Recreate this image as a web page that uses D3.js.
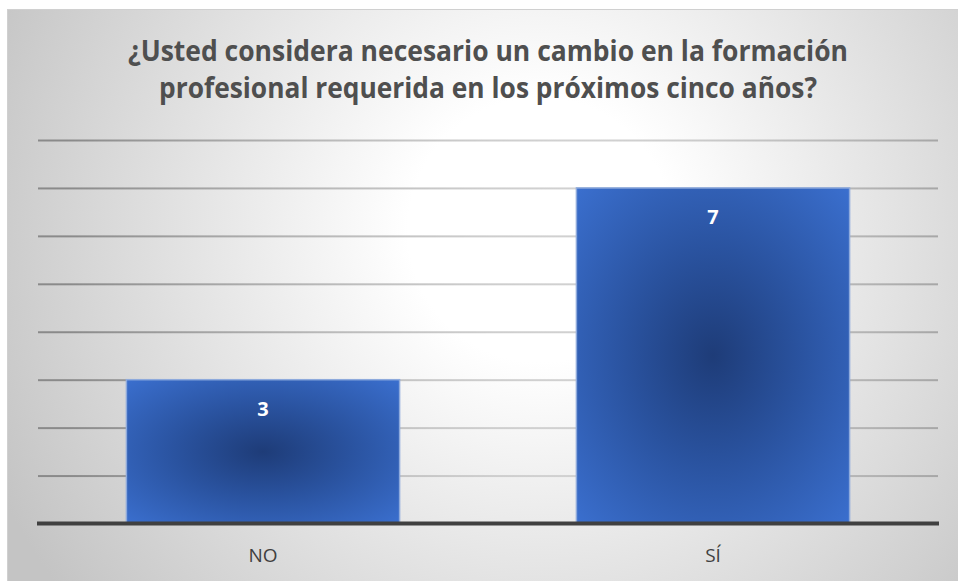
<!DOCTYPE html>
<html>
<head>
<meta charset="utf-8">
<script src="https://cdn.jsdelivr.net/npm/d3@7"></script>
<style>
  html, body { margin: 0; padding: 0; background: #ffffff; }
  svg { display: block; }
</style>
</head>
<body>
<svg id="chart" width="958" height="581"></svg>
<script>
// Survey answers: respondents per option
const categories = ["NO", "SÍ"];
const values = [3, 7];
const yTicks = [0, 1, 2, 3, 4, 5, 6, 7, 8];
const titleLines = [
  "¿Usted considera necesario un cambio en la formación",
  "profesional requerida en los próximos cinco años?"
];

const W = 958, H = 581;
const svg = d3.select("#chart");
const defs = svg.append("defs");

// Frame background: white glow fading to grey toward the edges
const bg = defs.append("radialGradient")
  .attr("id", "bgGrad")
  .attr("gradientUnits", "userSpaceOnUse")
  .attr("cx", 540).attr("cy", 230).attr("r", 600);
bg.append("stop").attr("offset", "0%").attr("stop-color", "#ffffff");
bg.append("stop").attr("offset", "22%").attr("stop-color", "#ffffff");
bg.append("stop").attr("offset", "100%").attr("stop-color", "#c4c4c4");

// Gridlines follow the same glow, darker at the sides
const gg = defs.append("radialGradient")
  .attr("id", "gridGrad")
  .attr("gradientUnits", "userSpaceOnUse")
  .attr("cx", 540).attr("cy", 230).attr("r", 560);
gg.append("stop").attr("offset", "0%").attr("stop-color", "#ececec");
gg.append("stop").attr("offset", "30%").attr("stop-color", "#dedede");
gg.append("stop").attr("offset", "100%").attr("stop-color", "#8a8a8a");

// Bars: dark blue core, lighter blue rim
const barGrad = defs.append("radialGradient")
  .attr("id", "barGrad")
  .attr("cx", 0.5).attr("cy", 0.5).attr("r", 0.72);
barGrad.append("stop").attr("offset", "0%").attr("stop-color", "#1e3c78");
barGrad.append("stop").attr("offset", "45%").attr("stop-color", "#2a53a0");
barGrad.append("stop").attr("offset", "100%").attr("stop-color", "#3b70d0");

svg.append("rect")
  .attr("x", 7.5).attr("y", 9.5)
  .attr("width", W).attr("height", H)
  .attr("fill", "url(#bgGrad)")
  .attr("stroke", "#d0d0d0").attr("stroke-width", 1);

// Title
const title = svg.append("g")
  .attr("font-family", "'Open Sans', 'Noto Sans', sans-serif")
  .attr("font-weight", "bold")
  .attr("font-size", 29)
  .attr("fill", "#4f4f4f")
  .attr("text-anchor", "middle");
const titleWidths = [720, 658];
titleLines.forEach((t, i) => {
  title.append("text")
    .attr("x", 488)
    .attr("y", 61 + i * 37)
    .attr("textLength", titleWidths[i])
    .attr("lengthAdjust", "spacingAndGlyphs")
    .text(t);
});

// Scales
const x = d3.scaleBand()
  .domain(categories)
  .range([38, 938])
  .paddingInner(0.393)
  .paddingOuter(0.1965);
const y = d3.scaleLinear()
  .domain([0, 8])
  .range([523.5, 140]);

// Gridlines (no tick labels on the value axis), drawn as thin bands so the gradient fill applies
const grid = svg.append("g")
  .attr("transform", "translate(38,0)")
  .call(d3.axisLeft(y).tickValues(yTicks.slice(1)).tickSize(0).tickFormat(""));
grid.select(".domain").remove();
grid.selectAll(".tick line").remove();
grid.selectAll(".tick").append("rect")
  .attr("x", 0).attr("y", -1)
  .attr("width", 938 - 38).attr("height", 2)
  .attr("fill", "url(#gridGrad)");

// Bars
svg.append("g")
  .selectAll("rect")
  .data(categories.map((c, i) => ({ c, v: values[i] })))
  .join("rect")
  .attr("x", d => x(d.c))
  .attr("y", d => y(d.v))
  .attr("width", x.bandwidth())
  .attr("height", d => y(0) - y(d.v))
  .attr("fill", "url(#barGrad)")
  .attr("stroke", "#8eaadc")
  .attr("stroke-width", 1.5);

// Value labels inside the bar tops
svg.append("g")
  .selectAll("text")
  .data(categories.map((c, i) => ({ c, v: values[i] })))
  .join("text")
  .attr("x", d => x(d.c) + x.bandwidth() / 2)
  .attr("y", d => y(d.v) + 36)
  .attr("text-anchor", "middle")
  .attr("font-family", "'Open Sans', 'Noto Sans', sans-serif")
  .attr("font-weight", "bold")
  .attr("font-size", 20)
  .attr("fill", "#ffffff")
  .text(d => d.v);

// Category axis
const xAxis = svg.append("g")
  .attr("transform", `translate(0,${y(0)})`)
  .call(d3.axisBottom(x).tickSize(0).tickPadding(25));
xAxis.select(".domain").remove();
xAxis.append("rect")
  .attr("x", 37).attr("y", -2)
  .attr("width", 902).attr("height", 4)
  .attr("fill", "#404040");
xAxis.selectAll(".tick text")
  .attr("font-family", "'Open Sans', 'Noto Sans', sans-serif")
  .attr("font-size", 19)
  .attr("fill", "#404040");
</script>
</body>
</html>
